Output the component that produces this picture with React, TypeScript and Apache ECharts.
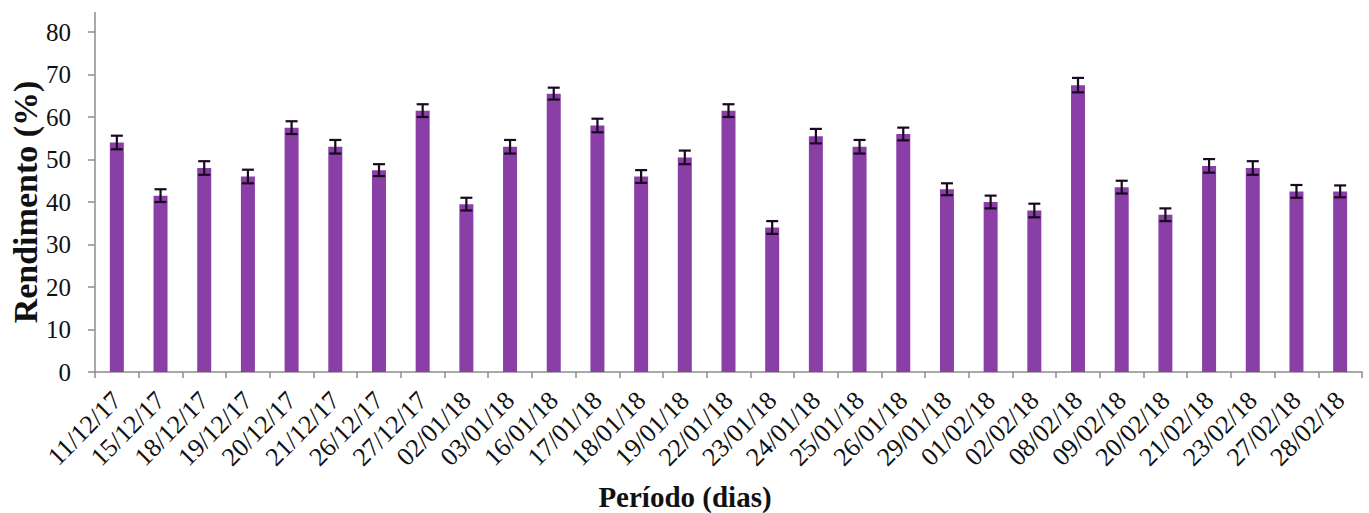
import React, { useEffect, useRef } from "react";
import * as echarts from "echarts";

const categories = [
  "11/12/17", "15/12/17", "18/12/17", "19/12/17", "20/12/17", "21/12/17", "26/12/17", "27/12/17",
  "02/01/18", "03/01/18", "16/01/18", "17/01/18", "18/01/18", "19/01/18", "22/01/18", "23/01/18",
  "24/01/18", "25/01/18", "26/01/18", "29/01/18", "01/02/18", "02/02/18", "08/02/18", "09/02/18",
  "20/02/18", "21/02/18", "23/02/18", "27/02/18", "28/02/18",
];
const values = [
  54, 41.5, 48, 46, 57.5, 53, 47.5, 61.5,
  39.5, 53, 65.5, 58, 46, 50.5, 61.5, 34,
  55.5, 53, 56, 43, 40, 38, 67.5, 43.5,
  37, 48.5, 48, 42.5, 42.5,
];
const errors = [
  1.6, 1.5, 1.6, 1.6, 1.5, 1.6, 1.4, 1.5,
  1.5, 1.6, 1.4, 1.6, 1.5, 1.6, 1.5, 1.5,
  1.7, 1.6, 1.5, 1.4, 1.5, 1.6, 1.7, 1.5,
  1.5, 1.6, 1.6, 1.5, 1.4,
];
const yTicks = { min: 0, max: 80, interval: 10 };

const FONT = "Liberation Serif";

export default function App() {
  const ref = useRef<HTMLDivElement>(null);
  useEffect(() => {
    if (!ref.current) return;
    const chart = echarts.init(ref.current, undefined, { renderer: "svg" });
    const errData = values.map((v, i) => [i, v - errors[i], v + errors[i]]);
    chart.setOption({
      animation: false,
      backgroundColor: "#ffffff",
      textStyle: { fontFamily: FONT },
      grid: { left: 95, right: 7, top: 32, bottom: 141 },
      xAxis: {
        type: "category",
        data: categories,
        boundaryGap: true,
        axisLine: { lineStyle: { color: "#8c8c8c", width: 1.5 } },
        axisTick: { show: true, length: 6, lineStyle: { color: "#8c8c8c", width: 1.5 } },
        axisLabel: {
          rotate: 45,
          interval: 0,
          fontSize: 26,
          fontFamily: FONT,
          color: "#111",
          margin: 24,
        },
      },
      yAxis: {
        type: "value",
        min: yTicks.min,
        max: yTicks.max,
        interval: yTicks.interval,
        splitLine: { show: false },
        axisLine: { show: true, lineStyle: { color: "#8c8c8c", width: 1.5 } },
        axisTick: { show: true, length: 7, lineStyle: { color: "#8c8c8c", width: 1.5 } },
        axisLabel: { fontSize: 25, fontFamily: FONT, color: "#111", margin: 24 },
      },
      graphic: [
        {
          type: "line",
          shape: { x1: 95, y1: 12, x2: 95, y2: 32 },
          style: { stroke: "#8c8c8c", lineWidth: 1.5 },
        },
        {
          type: "text",
          x: 25,
          y: 202,
          rotation: Math.PI / 2,
          style: {
            text: "Rendimento (%)",
            fontSize: 34,
            fontWeight: "bold",
            fontFamily: FONT,
            fill: "#111",
            align: "center",
            verticalAlign: "middle",
          },
        },
        {
          type: "text",
          x: 685,
          y: 497,
          style: {
            text: "Período (dias)",
            fontSize: 29,
            fontWeight: "bold",
            fontFamily: FONT,
            fill: "#111",
            align: "center",
            verticalAlign: "middle",
          },
        },
      ],
      series: [
        {
          type: "bar",
          data: values,
          barWidth: 14,
          itemStyle: { color: "#8a3fa7" },
        },
        {
          type: "custom",
          data: errData,
          z: 10,
          renderItem: (params: any, api: any) => {
            const x = api.value(0);
            const lo = api.coord([x, api.value(1)]);
            const hi = api.coord([x, api.value(2)]);
            const hw = 6;
            const style = { stroke: "#1a0820", lineWidth: 2.2 };
            return {
              type: "group",
              children: [
                { type: "line", shape: { x1: lo[0], y1: lo[1], x2: hi[0], y2: hi[1] }, style },
                { type: "line", shape: { x1: hi[0] - hw, y1: hi[1], x2: hi[0] + hw, y2: hi[1] }, style },
                { type: "line", shape: { x1: lo[0] - hw, y1: lo[1], x2: lo[0] + hw, y2: lo[1] }, style },
              ],
            };
          },
        },
      ],
    });
    return () => chart.dispose();
  }, []);
  return (
    <div
      ref={ref}
      style={{ position: "absolute", left: 0, top: 0, width: 1369, height: 513 }}
    />
  );
}
